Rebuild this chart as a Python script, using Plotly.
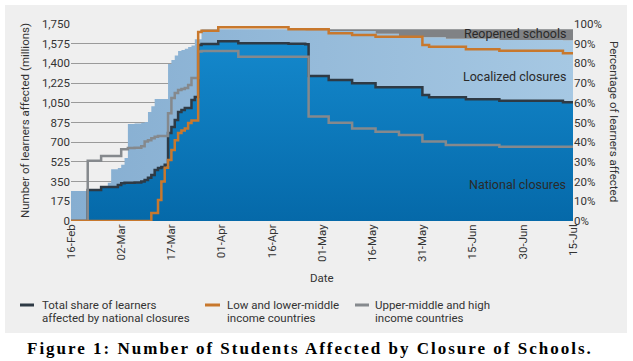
import plotly.graph_objects as go

dates = ["2020-02-16", "2020-02-21", "2020-02-25", "2020-02-27", "2020-02-28", "2020-03-01",
         "2020-03-02", "2020-03-03", "2020-03-04", "2020-03-06", "2020-03-08", "2020-03-09",
         "2020-03-10", "2020-03-11", "2020-03-12", "2020-03-13", "2020-03-14", "2020-03-15",
         "2020-03-16", "2020-03-17", "2020-03-18", "2020-03-19", "2020-03-20", "2020-03-21",
         "2020-03-22", "2020-03-23", "2020-03-24", "2020-03-25", "2020-03-26", "2020-03-31",
         "2020-04-06", "2020-04-21", "2020-04-26", "2020-04-27", "2020-05-03", "2020-05-10",
         "2020-05-17", "2020-05-24", "2020-05-31", "2020-06-02", "2020-06-07", "2020-06-13",
         "2020-06-23", "2020-07-12", "2020-07-15"]

# learners affected (millions)
national = [0, 275, 302, 302, 302, 320, 335, 340, 340, 342, 350, 364,
            385, 408, 453, 470, 480, 500, 781, 835, 897, 968, 985, 1004,
            1004, 1075, 1101, 1563, 1572, 1596, 1578, 1574, 1570, 1288, 1252, 1223,
            1188, 1188, 1119, 1099, 1099, 1081, 1069, 1055, 1051]
localized = [266, 0, 0, 38, 158, 150, 165, 220, 522, 524, 522, 516,
             583, 612, 630, 613, 603, 583, 613, 595, 573, 542, 535, 526,
             541, 485, 514, 52, 131, 107, 125, 129, 123, 405, 436, 465,
             475, 455, 514, 534, 519, 537, 539, 550, 554]
reopened = [0, 0, 0, 0, 0, 0, 0, 0, 0, 0, 0, 0,
            0, 0, 0, 0, 0, 0, 0, 0, 0, 0, 0, 0,
            0, 0, 0, 0, 0, 0, 0, 0, 10, 10, 15, 15,
            40, 60, 70, 70, 85, 85, 95, 98, 98]

# percentage of learners affected
low_lower_middle = [0, 0, 0, 0, 0, 0, 0, 0, 0, 0, 0, 0,
                    0, 4, 4, 10.7, 20, 27, 31, 36, 41, 44.7, 46, 47,
                    49.7, 51, 51, 96, 96.6, 98.3, 98.3, 97.3, 97.3, 97.3, 95.3, 94.4,
                    93.5, 93.5, 89.3, 88.5, 88.5, 87.2, 86.4, 85.1, 85.1]
upper_middle_high = [0, 30.6, 33, 33, 33, 33, 36.4, 36.4, 37, 37.2, 38, 40.3,
                     41, 42, 42.8, 43.1, 43.1, 43.1, 54.7, 62.4, 65, 66.5, 67, 67.5,
                     69, 72.6, 72.6, 86, 86.3, 86.3, 83.4, 83.4, 83.4, 53, 49.9, 47,
                     45.3, 43.7, 40.3, 40.3, 38.6, 38.6, 37.7, 37.7, 37.7]

left_ticks = [0, 175, 350, 525, 700, 875, 1050, 1225, 1400, 1575, 1750]
area_labels = ["Reopened schools", "Localized closures", "National closures"]
legend_names = [["Total share of learners", "affected by national closures"],
                ["Low and lower-middle", "income countries"],
                ["Upper-middle and high", "income countries"]]
title_text = "Figure 1: Number of Students Affected by Closure of Schools."

C_NAT = "#0b7dc0"
C_LOC = "#9dc2df"
C_REO = "#808285"
C_DARK = "#2e3a45"
C_ORANGE = "#c8782d"
C_GRAY = "#85898d"
FONT = "Roboto"

fig = go.Figure()
fig.add_trace(go.Scatter(x=dates, y=national, stackgroup="s", line=dict(width=0, shape="hv"),
                         fillcolor=C_NAT,
                         fillgradient=dict(type="vertical", colorscale=[[0, "#0569a9"], [1, "#1488cc"]]),
                         name="National closures", showlegend=False, hoverinfo="skip"))
fig.add_trace(go.Scatter(x=dates, y=localized, stackgroup="s", line=dict(width=0, shape="hv"),
                         fillcolor=C_LOC,
                         fillgradient=dict(type="horizontal", colorscale=[[0, "#86aed1"], [1, "#a6c8e3"]]),
                         name="Localized closures", showlegend=False, hoverinfo="skip"))
fig.add_trace(go.Scatter(x=dates, y=reopened, stackgroup="s", line=dict(width=0, shape="hv"),
                         fillcolor=C_REO, name="Reopened schools", showlegend=False, hoverinfo="skip"))
fig.add_trace(go.Scatter(x=dates, y=upper_middle_high, yaxis="y2", mode="lines",
                         line=dict(color=C_GRAY, width=2.5, shape="hv"), showlegend=False))
fig.add_trace(go.Scatter(x=dates, y=low_lower_middle, yaxis="y2", mode="lines",
                         line=dict(color=C_ORANGE, width=2.5, shape="hv"), showlegend=False))
fig.add_trace(go.Scatter(x=dates, y=national, mode="lines",
                         line=dict(color=C_DARK, width=2.5, shape="hv"), showlegend=False))

L, R, T, B = 71, 60, 24, 140
W, H = 633, 361
PW, PH = W - L - R, H - T - B


def px(x):
    return (x - L) / PW


def py(y):
    return (H - B - y) / PH


shapes = [dict(type="rect", xref="paper", yref="paper", x0=px(5), x1=px(627), y0=py(333), y1=py(5),
               fillcolor="#efefef", line=dict(width=0), layer="below")]
anns = []
leg_colors = [C_DARK, C_ORANGE, C_GRAY]
leg_x = [(20, 34, 40), (205, 220, 225), (355, 369, 373)]
for (x0, x1, xt), col, nm in zip(leg_x, leg_colors, legend_names):
    shapes.append(dict(type="line", xref="paper", yref="paper", x0=px(x0), x1=px(x1),
                       y0=py(305), y1=py(305), line=dict(color=col, width=3)))
    anns.append(dict(xref="paper", yref="paper", x=px(xt), y=py(305), text=nm[0], showarrow=False,
                     xanchor="left", yanchor="middle", font=dict(family=FONT, size=11.5, color="#333")))
    anns.append(dict(xref="paper", yref="paper", x=px(xt), y=py(318), text=nm[1], showarrow=False,
                     xanchor="left", yanchor="middle", font=dict(family=FONT, size=11.5, color="#333")))

for txt, yy in zip(area_labels, [33, 76, 184]):
    anns.append(dict(xref="paper", yref="paper", x=px(568), y=py(yy), text=txt, showarrow=False,
                     xanchor="right", yanchor="middle", font=dict(family=FONT, size=12.5, color="#2a2a2a")))

anns.append(dict(xref="paper", yref="paper", x=px(25), y=py(121), text="Number of learners affected (millions)",
                 textangle=-90, showarrow=False, xanchor="center", yanchor="middle",
                 font=dict(family=FONT, size=11.5, color="#333")))
anns.append(dict(xref="paper", yref="paper", x=px(614), y=py(121), text="Percentage of learners affected",
                 textangle=90, showarrow=False, xanchor="center", yanchor="middle",
                 font=dict(family=FONT, size=11.5, color="#333")))
anns.append(dict(xref="paper", yref="paper", x=px(322), y=py(278), text="Date", showarrow=False,
                 xanchor="center", yanchor="middle", font=dict(family=FONT, size=11.5, color="#333")))
anns.append(dict(xref="paper", yref="paper", x=px(310), y=py(348),
                 text='<span style="letter-spacing:2px"><b>' + title_text + "</b></span>",
                 showarrow=False, xanchor="center", yanchor="middle",
                 font=dict(family="Liberation Serif", size=17, color="#000")))

fig.update_layout(
    width=W, height=H, margin=dict(l=L, r=R, t=T, b=B, autoexpand=False),
    paper_bgcolor="white", plot_bgcolor="#efefef",
    font=dict(family=FONT, size=11.5, color="#333"),
    showlegend=False,
    xaxis=dict(type="date", range=["2020-02-16", "2020-07-15"], tick0="2020-02-16", dtick=15 * 86400000,
               tickformat="%d-%b", tickangle=-90, showgrid=False, zeroline=False, ticks="", ticklen=0,
               tickfont=dict(size=11.5, color="#333"), showline=False),
    yaxis=dict(range=[0, 1750], tickvals=left_ticks, tickformat=",", showgrid=True, gridcolor="#9a9a9a",
               gridwidth=1, zeroline=False, ticks="", tickfont=dict(size=11.5, color="#333")),
    yaxis2=dict(range=[0, 100], overlaying="y", side="right", dtick=10, ticksuffix="%", showgrid=False,
                zeroline=False, ticks="", tickfont=dict(size=11.5, color="#333")),
    shapes=shapes, annotations=anns,
)

fig.write_html("out.html", config={"displayModeBar": False},
               post_script="document.body.style.margin='0';document.body.style.overflow='hidden';")
